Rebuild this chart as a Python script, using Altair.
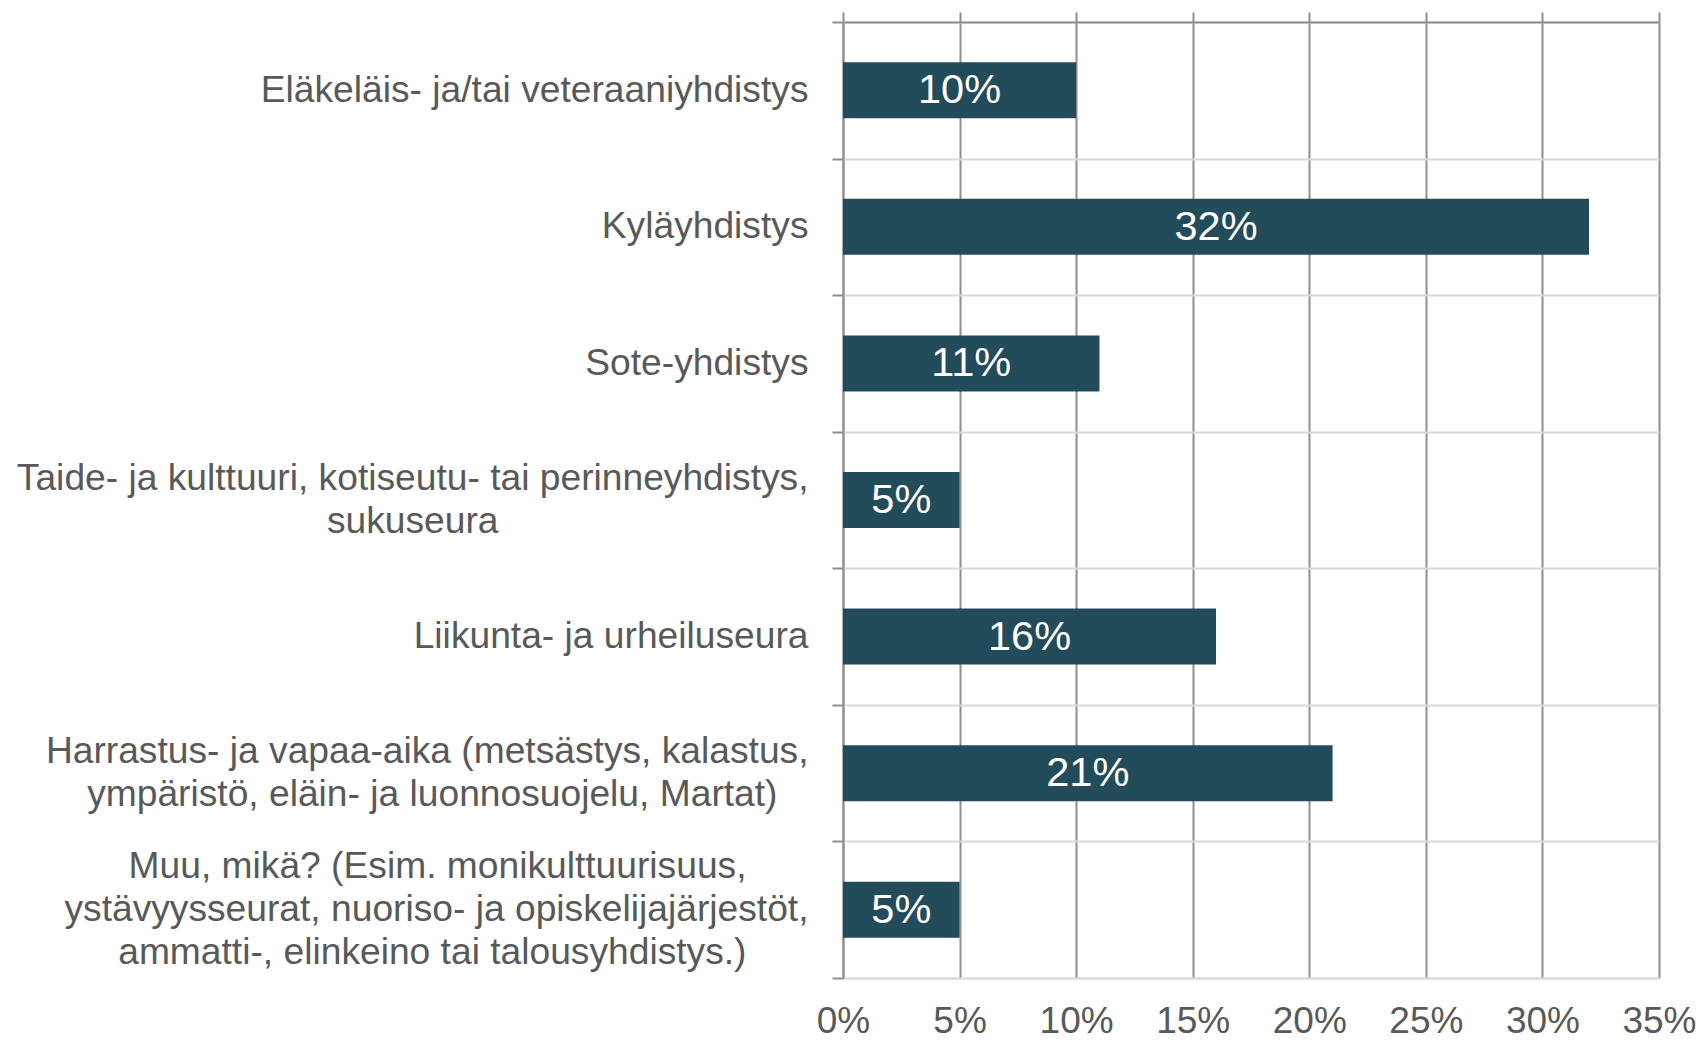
import altair as alt
import pandas as pd

# ---- data ----
label_lines = [
    ["Eläkeläis- ja/tai veteraaniyhdistys"],
    ["Kyläyhdistys"],
    ["Sote-yhdistys"],
    ["Taide- ja kulttuuri, kotiseutu- tai perinneyhdistys,", "sukuseura"],
    ["Liikunta- ja urheiluseura"],
    ["Harrastus- ja vapaa-aika (metsästys, kalastus,", "ympäristö, eläin- ja luonnosuojelu, Martat)"],
    ["Muu, mikä? (Esim. monikulttuurisuus,", "ystävyysseurat, nuoriso- ja opiskelijajärjestöt,", "ammatti-, elinkeino tai talousyhdistys.)"],
]
# trailing non-breaking spaces so the lines of a label look centred on each other
trail_pad = [[0], [0], [0], [0, 30], [0], [0, 3], [6, 0, 6]]
values = [10, 32, 11, 5, 16, 21, 5]
x_ticks = [0, 5, 10, 15, 20, 25, 30, 35]

NBSP = "\u00a0"
ZWSP = "\u200b"  # keeps the padding from being trimmed


def pad_line(line, n):
    return line + NBSP * n + ZWSP if n else line


cats = ["|".join(pad_line(line, p) for line, p in zip(lines, pads))
        for lines, pads in zip(label_lines, trail_pad)]
df = pd.DataFrame({"cat": cats, "value": values})

FONT = "Liberation Sans"
TEXT = "#595959"
GRID_DARK = "#8f8f8f"
GRID_LIGHT = "#d9d9d9"
BAR = "#234c5b"
LINE_H = 43

nlines = "length(split(datum.label, '|'))"
label_offset = {
    "condition": [
        {"test": f"{nlines} == 2", "value": -LINE_H / 2},
        {"test": f"{nlines} == 3", "value": -LINE_H},
    ],
    "value": 0,
}

xscale = alt.Scale(domain=[0, 35], nice=False, zero=True)

y_enc = alt.Y(
    "cat:N", sort=cats, title=None,
    scale=alt.Scale(paddingInner=0, paddingOuter=0),
    axis=alt.Axis(
        labelExpr="split(datum.label, '|')",
        labelFont=FONT, labelFontSize=37.2, labelColor=TEXT,
        labelLineHeight=LINE_H, labelPadding=24, labelLimit=2000,
        labelOffset=label_offset,
        tickBand="extent", tickSize=11, tickColor=GRID_DARK, tickWidth=2,
        domainColor=GRID_DARK, domainWidth=2,
        grid=True, gridColor=GRID_LIGHT, gridWidth=2,
    ),
)

bars = alt.Chart(df).mark_bar(color=BAR, height={"band": 0.41}).encode(
    x=alt.X(
        "value:Q", scale=xscale, title=None,
        axis=alt.Axis(
            orient="bottom", values=x_ticks, labelExpr="datum.value + '%'",
            labelFont=FONT, labelFontSize=37, labelColor=TEXT,
            labelBaseline="alphabetic", labelPadding=54,
            labelFlush=False, labelOverlap=False,
            ticks=False, tickSize=0, domainColor=GRID_LIGHT, domainWidth=2,
            grid=True, gridColor=GRID_DARK, gridWidth=2,
        ),
    ),
    y=y_enc,
)

labels = alt.Chart(df).transform_calculate(
    mid="datum.value / 2", txt="datum.value + '%'"
).mark_text(color="white", font=FONT, fontSize=41.5, baseline="middle",
            align="center", dy=1).encode(
    x=alt.X(
        "mid:Q", scale=xscale, title=None,
        axis=alt.Axis(
            orient="top", values=x_ticks, labels=False,
            ticks=True, tickSize=10, tickColor=GRID_DARK, tickWidth=2,
            domain=True, domainColor=GRID_DARK, domainWidth=2, grid=False,
        ),
    ),
    y=y_enc,
    text="txt:N",
)

chart = alt.layer(bars, labels).resolve_axis(x="independent").properties(
    width=816, height=956,
    autosize=alt.AutoSizeParams(type="none"),
    padding={"left": 835, "top": 14, "right": 39, "bottom": 62},
    background="white",
).configure_view(stroke=None)

chart.save("out.html", embed_options={"renderer": "svg", "actions": False})
